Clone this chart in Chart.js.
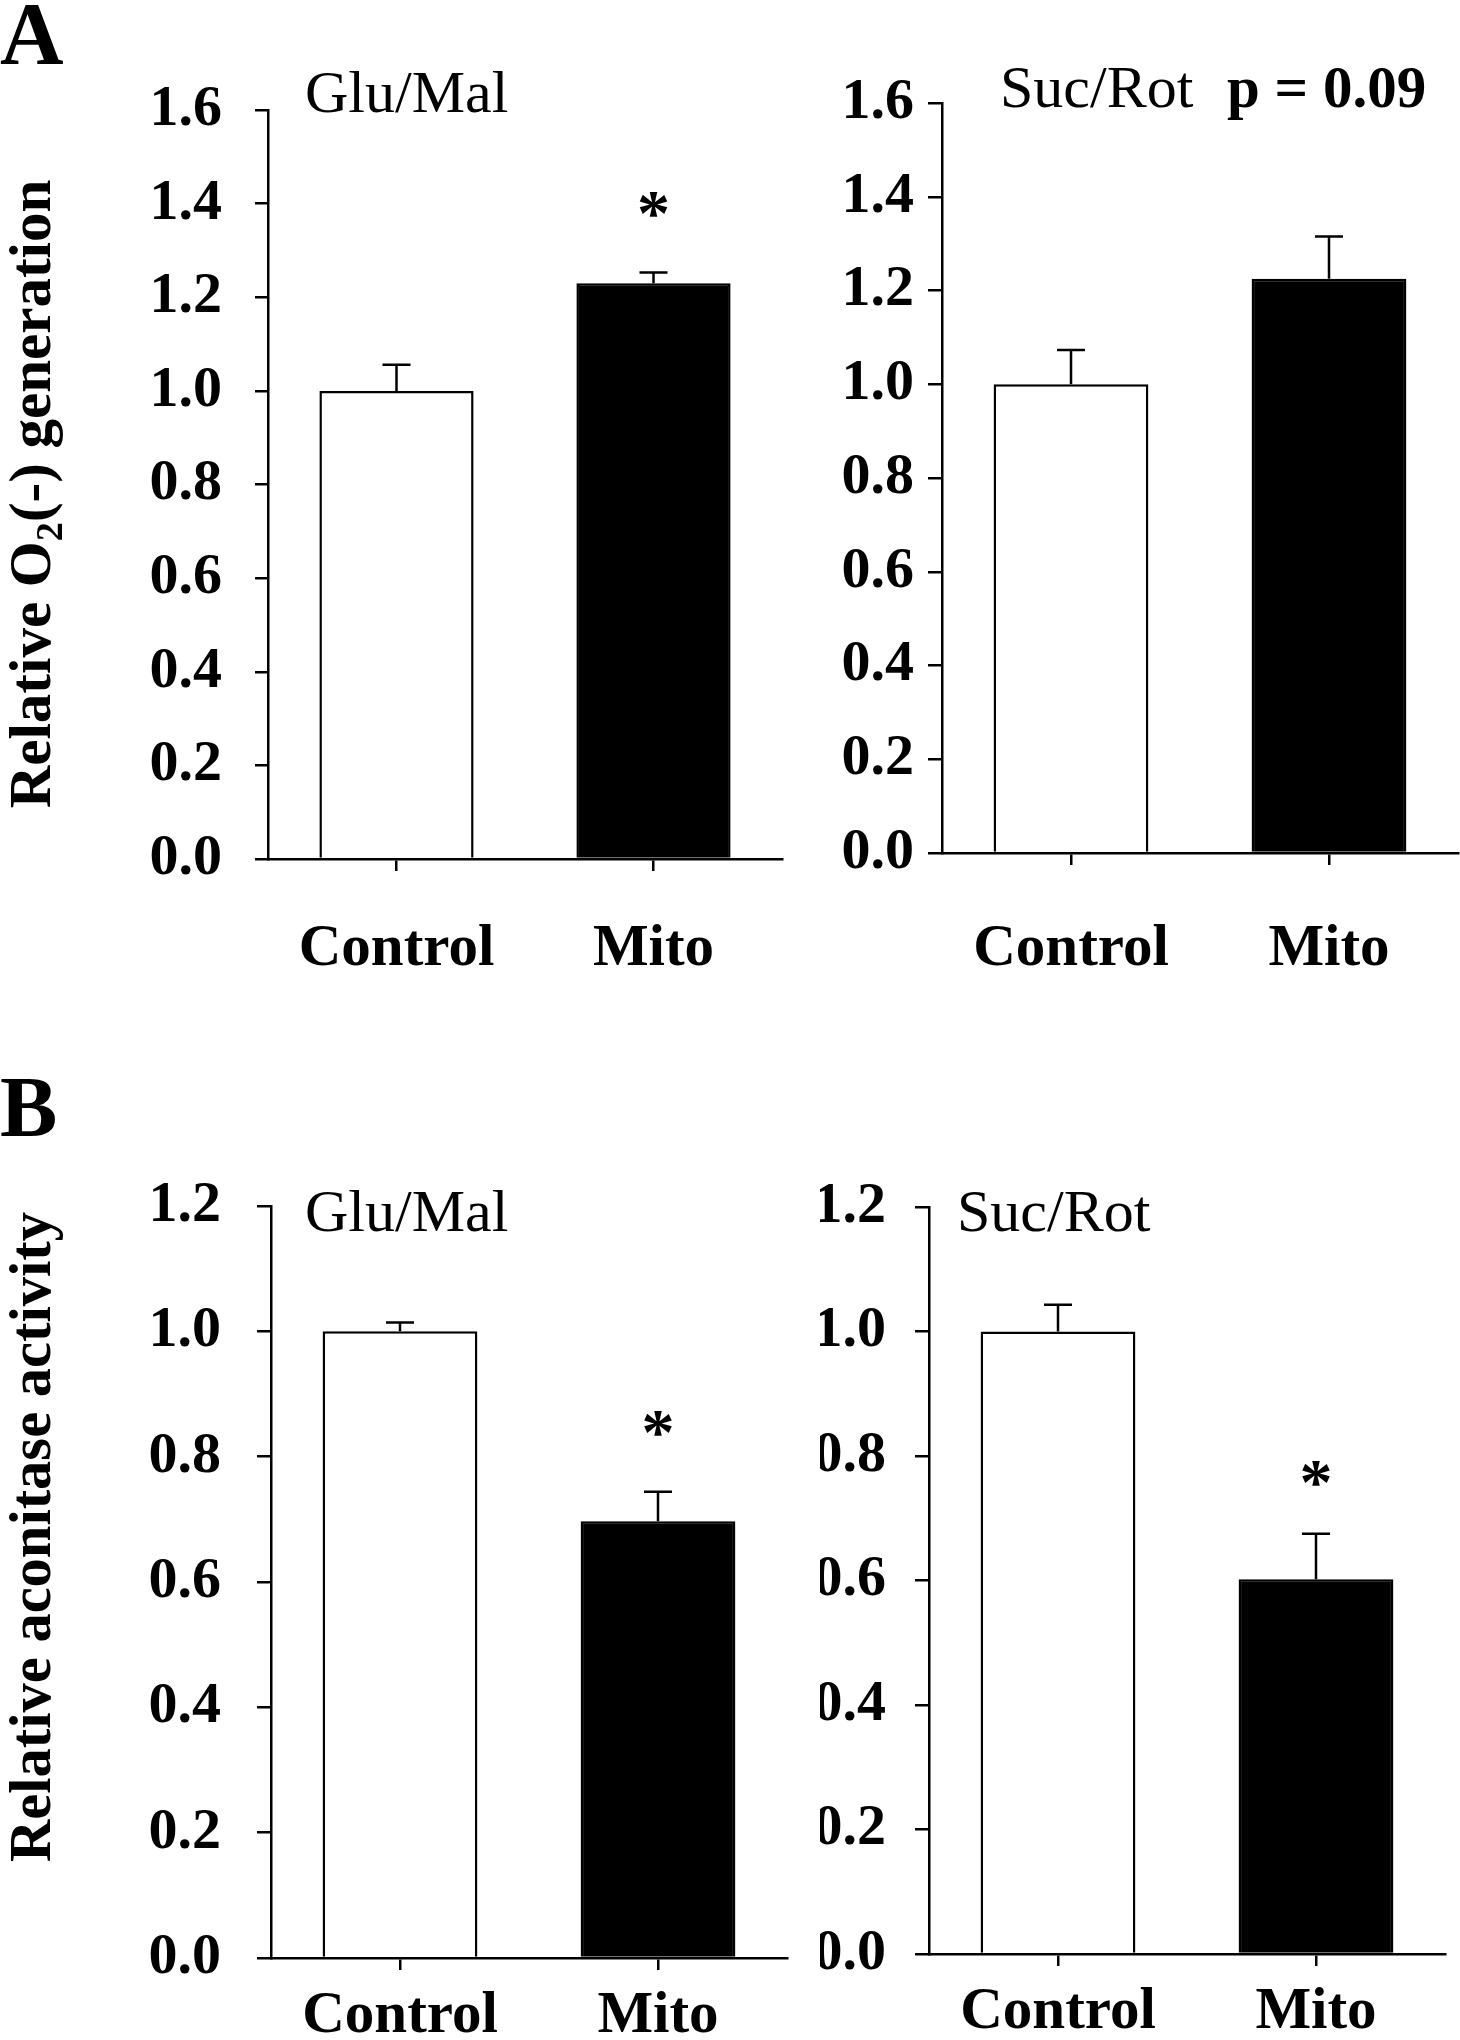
<!DOCTYPE html>
<html>
<head>
<meta charset="utf-8">
<script src="https://cdn.jsdelivr.net/npm/chart.js@4.4.0/dist/chart.umd.min.js"></script>
<style>
html, body { margin: 0; padding: 0; background: #fff; }
#pagina { position: relative; width: 1460px; height: 2040px; overflow: hidden; }
canvas { position: absolute; }
</style>
</head>
<body>
<div id="pagina">
  <canvas id="a1" width="800" height="1010" style="left:0px;top:0px"></canvas>
  <canvas id="a2" width="640" height="1010" style="left:820px;top:0px"></canvas>
  <canvas id="b1" width="800" height="1000" style="left:0px;top:1040px"></canvas>
  <canvas id="b2" width="640" height="1000" style="left:820px;top:1040px"></canvas>
</div>
<script>
const FONT = '"Liberation Serif", "Times New Roman", Times, serif';

// grupos y colores de barra
const grupos = ['Control', 'Mito'];
const colores = ['#ffffff', '#000000'];

// ticks de los ejes Y
const ticksO2 = [0, 0.2, 0.4, 0.6, 0.8, 1.0, 1.2, 1.4, 1.6];
const ticksAcon = [0, 0.2, 0.4, 0.6, 0.8, 1.0, 1.2];

// A: generacion de O2(-)
const o2GluMal = [1.0, 1.23];
const o2GluMalErr = [0.056, 0.023];
const o2GluMalStar = [null, 1.40];

const o2SucRot = [1.0, 1.225];
const o2SucRotErr = [0.073, 0.09];
const o2SucRotStar = [null, null];

// B: actividad de aconitasa
const aconGluMal = [1.0, 0.697];
const aconGluMalErr = [0.014, 0.047];
const aconGluMalStar = [null, 0.854];

const aconSucRot = [1.0, 0.602];
const aconSucRotErr = [0.043, 0.073];
const aconSucRotStar = [null, 0.772];

// configuracion de cada panel (posiciones en pixeles de pagina)
const paneles = [
    {
        id: 'a1', x0: 0, y0: 0,
        valores: o2GluMal, err: o2GluMalErr, star: o2GluMalStar, ticks: ticksO2,
        ejeAncho: 268, padTop: 110, padRight: 18, ejeAlto: 151,
        tickLen: 13, tickPad: 33, labelPad: 49,
        textos: [
            { t: 'A', x: 0, y: 63, size: 88, bold: true },
            { t: 'Glu/Mal', x: 305, y: 112, size: 60, bold: false }
        ],
        tituloY: { x: 32, y: 494, size: 59, partes: [
            { t: 'Relative O' }, { t: '2', sub: true }, { t: '(-) generation' }
        ] }
    },
    {
        id: 'a2', x0: 820, y0: 0,
        valores: o2SucRot, err: o2SucRotErr, star: o2SucRotStar, ticks: ticksO2,
        ejeAncho: 122, padTop: 103, padRight: 2, ejeAlto: 157,
        tickLen: 14, tickPad: 14, labelPad: 55,
        textos: [
            { t: 'Suc/Rot', x: 1000, y: 107, size: 60, bold: false },
            { t: 'p = 0.09', x: 1227, y: 107, size: 59, bold: true }
        ]
    },
    {
        id: 'b1', x0: 0, y0: 1040,
        valores: aconGluMal, err: aconGluMalErr, star: aconGluMalStar, ticks: ticksAcon,
        ejeAncho: 271, padTop: 166, padRight: 13, ejeAlto: 82,
        tickLen: 14, tickPad: 36, labelPad: 17,
        textos: [
            { t: 'B', x: 0, y: 1136, size: 86, bold: true },
            { t: 'Glu/Mal', x: 305, y: 1231, size: 60, bold: false }
        ],
        tituloY: { x: 32, y: 1537, size: 58.5, partes: [
            { t: 'Relative aconitase activity' }
        ] }
    },
    {
        id: 'b2', x0: 820, y0: 1040,
        valores: aconSucRot, err: aconSucRotErr, star: aconSucRotStar, ticks: ticksAcon,
        ejeAncho: 109, padTop: 167, padRight: 15, ejeAlto: 86,
        tickLen: 14, tickPad: 29, labelPad: 17,
        textos: [
            { t: 'Suc/Rot', x: 957, y: 1231, size: 60, bold: false }
        ]
    }
];

// titulo vertical con subindice opcional
function dibujarTituloY(ctx, tit, x0, y0) {
    const base = 'bold ' + tit.size + 'px ' + FONT;
    const sub = 'bold ' + (tit.size * 0.65) + 'px ' + FONT;
    let total = 0;
    tit.partes.forEach(pt => {
        ctx.font = pt.sub ? sub : base;
        pt.w = ctx.measureText(pt.t).width;
        total += pt.w;
    });
    ctx.save();
    ctx.translate(tit.x - x0, tit.y - y0);
    ctx.rotate(-Math.PI / 2);
    ctx.textAlign = 'left';
    ctx.textBaseline = 'alphabetic';
    let pos = -total / 2;
    const lineaBase = tit.size * 0.3;
    tit.partes.forEach(pt => {
        ctx.font = pt.sub ? sub : base;
        ctx.fillText(pt.t, pos, lineaBase + (pt.sub ? tit.size * 0.2 : 0));
        pos += pt.w;
    });
    ctx.restore();
}

function crearPanel(p) {
    const anotar = {
        id: 'anotar',
        afterDatasetsDraw(chart) {
            const ctx = chart.ctx;
            const escalaY = chart.scales.y;
            const meta = chart.getDatasetMeta(0);
            ctx.save();
            ctx.strokeStyle = '#000';
            ctx.fillStyle = '#000';
            ctx.lineWidth = 2.5;
            meta.data.forEach((barra, i) => {
                // barra de error (solo hacia arriba)
                const yTop = escalaY.getPixelForValue(p.valores[i] + p.err[i]);
                ctx.beginPath();
                ctx.moveTo(barra.x, barra.y);
                ctx.lineTo(barra.x, yTop);
                ctx.moveTo(barra.x - 14, yTop);
                ctx.lineTo(barra.x + 14, yTop);
                ctx.stroke();
                // asterisco de significancia
                if (p.star[i] != null) {
                    ctx.font = 'bold 66px ' + FONT;
                    ctx.textAlign = 'center';
                    ctx.textBaseline = 'alphabetic';
                    ctx.fillText('*', barra.x, escalaY.getPixelForValue(p.star[i]) + 31);
                }
            });
            p.textos.forEach(t => {
                ctx.font = (t.bold ? 'bold ' : '') + t.size + 'px ' + FONT;
                ctx.textAlign = 'left';
                ctx.textBaseline = 'alphabetic';
                ctx.fillText(t.t, t.x - p.x0, t.y - p.y0);
            });
            if (p.tituloY) dibujarTituloY(ctx, p.tituloY, p.x0, p.y0);
            ctx.restore();
        }
    };

    new Chart(document.getElementById(p.id), {
        type: 'bar',
        data: {
            labels: grupos,
            datasets: [{
                data: p.valores,
                backgroundColor: colores,
                borderColor: '#000',
                borderWidth: 2.5,
                barPercentage: 0.6,
                categoryPercentage: 1
            }]
        },
        options: {
            responsive: false,
            animation: false,
            layout: { padding: { top: p.padTop, right: p.padRight, left: 0, bottom: 0 } },
            plugins: { legend: { display: false }, tooltip: { enabled: false } },
            scales: {
                x: {
                    offset: true,
                    grid: { drawOnChartArea: false, offset: false, tickLength: 12, color: '#000', lineWidth: 2.5 },
                    border: { display: true, color: '#000', width: 2.5 },
                    ticks: {
                        color: '#000',
                        font: { family: FONT, size: 59, weight: 'bold', lineHeight: 1 },
                        padding: p.labelPad,
                        maxRotation: 0,
                        autoSkip: false
                    },
                    afterFit: s => { s.height = p.ejeAlto; }
                },
                y: {
                    min: 0,
                    max: p.ticks[p.ticks.length - 1],
                    afterBuildTicks: s => { s.ticks = p.ticks.map(v => ({ value: v })); },
                    grid: { drawOnChartArea: false, tickLength: p.tickLen, color: '#000', lineWidth: 2.5 },
                    border: { display: true, color: '#000', width: 2.5 },
                    ticks: {
                        color: '#000',
                        font: { family: FONT, size: 58, weight: 'bold', lineHeight: 1 },
                        padding: p.tickPad,
                        callback: v => v.toFixed(1)
                    },
                    afterFit: s => { s.width = p.ejeAncho; }
                }
            }
        },
        plugins: [anotar]
    });
}

paneles.forEach(crearPanel);
</script>
</body>
</html>
